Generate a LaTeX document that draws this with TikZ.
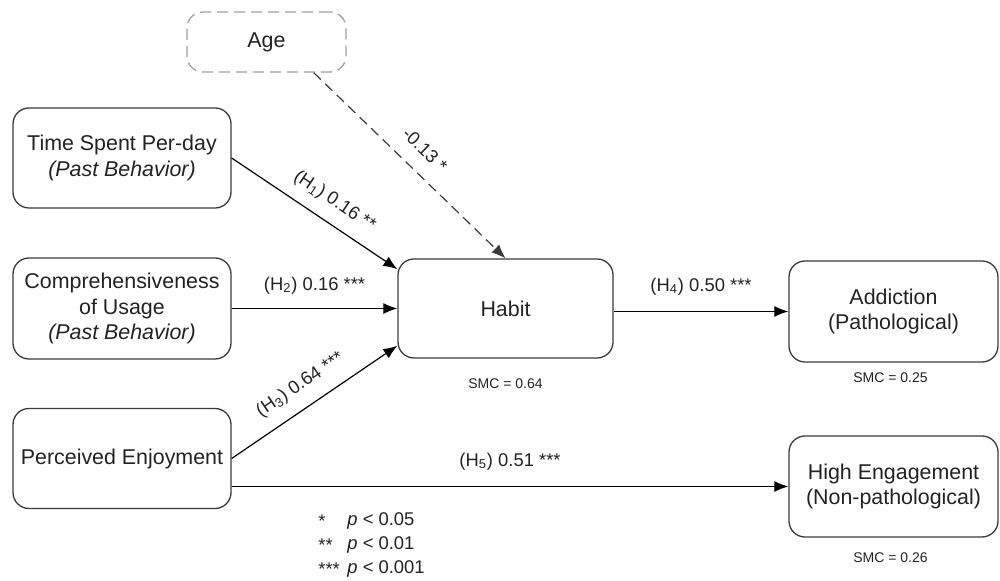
\documentclass[tikz,border=0pt]{standalone}
\usepackage{fontspec}
\setmainfont{Liberation Sans}
\usepackage{xcolor}
\usetikzlibrary{arrows.meta, positioning}
\definecolor{boxgray}{HTML}{3A3A3A}
\definecolor{txtgray}{HTML}{222222}

\begin{document}
\begin{tikzpicture}[x=0.5pt, y=-0.5pt,
    construct/.style={draw=boxgray, line width=0.65pt, rounded corners=8pt, align=center,
      text=txtgray, font=\fontsize{10.7}{12.6}\selectfont, inner sep=2pt},
    control/.style={construct, draw=gray!75, dash pattern=on 5.5pt off 3pt},
    path/.style={line width=0.6pt, -{Latex[length=7pt, width=5.5pt]}},
    lbl/.style={font=\fontsize{9.2}{11}\selectfont, text=txtgray, inner sep=1pt},
    smc/.style={font=\fontsize{7}{8}\selectfont, text=txtgray, inner sep=1pt}]

      \useasboundingbox (0,0) rectangle (1000,581);

      \node[control, minimum width=79.5pt, minimum height=30pt] (age) at (266.5,42) {Age};

      \node[construct, minimum width=109pt, minimum height=50pt] (time) at (122,158)
        {Time Spent Per-day\\\textit{(Past Behavior)}};
      \node[construct, minimum width=109pt, minimum height=50.5pt] (comp) at (122,308.5)
        {Comprehensiveness\\of Usage\\\textit{(Past Behavior)}};
      \node[construct, minimum width=109pt, minimum height=50pt] (enjoy) at (122,458.5)
        {Perceived Enjoyment};

      \node[construct, minimum width=107.5pt, minimum height=49.5pt] (habit) at (505.5,308.5) {Habit};

      \node[construct, minimum width=104.5pt, minimum height=50.5pt] (addict) at (893.5,311.5)
        {Addiction\\(Pathological)};
      \node[construct, minimum width=104.5pt, minimum height=50.5pt] (engage) at (893.5,486.5)
        {High Engagement\\(Non-pathological)};

      \node[smc, below=9pt of habit] (smcHabit) {SMC = 0.64};
      \node[smc, below=4pt of addict, xshift=-1.5pt] (smcAddict) {SMC = 0.25};
      \node[smc, below=6.5pt of engage, xshift=-1.5pt] (smcEngage) {SMC = 0.26};

      \draw[path, draw=boxgray, dash pattern=on 5pt off 3pt] (age.-33) -- (habit.north)
        node[lbl, midway, sloped, above=6.5pt] {-0.13 *};
      \draw[path] (time.east) -- (habit.160)
        node[lbl, pos=0.55, sloped, above=5pt] {(H\textsubscript{1}) 0.16 **};
      \draw[path] (comp.east) -- (habit.west)
        node[lbl, midway, above=6pt] {(H\textsubscript{2}) 0.16 ***};
      \draw[path] (enjoy.east) -- (habit.199)
        node[lbl, pos=0.49, sloped, above=5.5pt] {(H\textsubscript{3}) 0.64 ***};
      \draw[path] (habit.east |- addict.west) -- (addict.west)
        node[lbl, midway, above=7pt] {(H\textsubscript{4}) 0.50 ***};
      \draw[path] (enjoy.east |- engage.west) -- (engage.west)
        node[lbl, midway, above=7pt] {(H\textsubscript{5}) 0.51 ***};

      \foreach \stars/\pval/\yy [count=\i] in {{*}/0.05/521, {**}/0.01/545, {***}/0.001/569}{
        \node[lbl, anchor=west] (star\i) at (316,\yy) {\stars};
        \node[lbl, anchor=west] (pval\i) at (345,\yy) {\textit{p} < \pval};
      }

    \end{tikzpicture}
\end{document}
